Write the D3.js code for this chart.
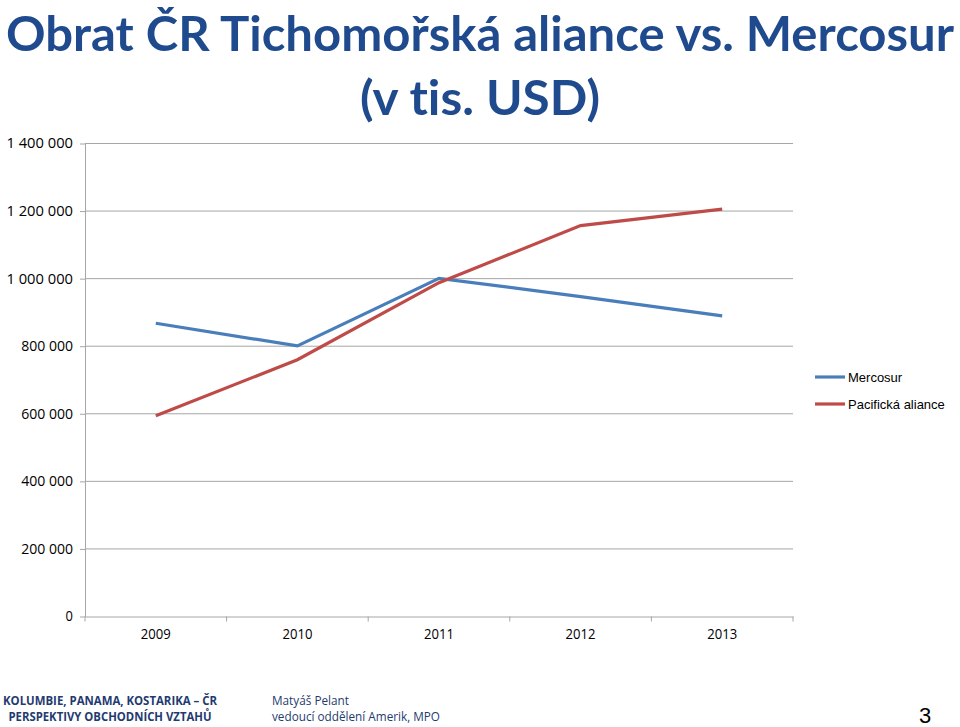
<!DOCTYPE html>
<html lang="cs">
<head>
<meta charset="UTF-8">
<script src="https://cdn.jsdelivr.net/npm/d3@7"></script>
<style>
  body { margin: 0; background: #fff; }
  svg text { font-family: "Open Sans", "DejaVu Sans", sans-serif; font-variant-ligatures: none; }
</style>
</head>
<body>
<div id="chart"></div>
<script>
// ---- data (thousand USD) ----
const years = ["2009", "2010", "2011", "2012", "2013"];
const mercosur = [868000, 801000, 1001000, 947000, 890000];
const pacifika = [594000, 760000, 988000, 1157000, 1206000];
const seriesNames = ["Mercosur", "Pacifická aliance"];
const yTicks = [0, 200000, 400000, 600000, 800000, 1000000, 1200000, 1400000];

const width = 960, height = 727;
const margin = { left: 85, right: 167, top: 143.5, bottom: 110.5 };

const svg = d3.select("#chart").append("svg")
  .attr("width", width)
  .attr("height", height);

// ---- title ----
const titleColor = "#1f4b8e";
svg.append("text")
  .attr("x", 6).attr("y", 51)
  .attr("textLength", 948).attr("lengthAdjust", "spacingAndGlyphs")
  .attr("fill", titleColor).attr("font-weight", "bold").attr("font-size", 48)
  .style("font-family", "Lato, 'Open Sans', sans-serif")
  .text("Obrat ČR Tichomořská aliance vs. Mercosur");
svg.append("text")
  .attr("x", 480).attr("y", 115).attr("text-anchor", "middle")
  .attr("textLength", 240).attr("lengthAdjust", "spacingAndGlyphs")
  .attr("fill", titleColor).attr("font-weight", "bold").attr("font-size", 48)
  .style("font-family", "Lato, 'Open Sans', sans-serif")
  .text("(v tis. USD)");

// ---- scales ----
const x = d3.scaleBand().domain(years)
  .range([margin.left, width - margin.right]);
const y = d3.scaleLinear().domain([0, 1400000])
  .range([height - margin.bottom, margin.top]);

const gridColor = "#a6a6a6";
const fmt = v => d3.format(",")(v).replace(/,/g, " ");

// gridlines
svg.append("g").selectAll("line")
  .data(yTicks.filter(d => d > 0))
  .enter().append("line")
  .attr("x1", margin.left).attr("x2", width - margin.right)
  .attr("y1", d => y(d)).attr("y2", d => y(d))
  .attr("stroke", gridColor).attr("stroke-width", 1);

// y axis
const yAxis = svg.append("g")
  .attr("transform", `translate(${margin.left},0)`)
  .call(d3.axisLeft(y).tickValues(yTicks).tickFormat(fmt).tickSize(5).tickSizeOuter(0));
yAxis.select(".domain").attr("stroke", gridColor);
yAxis.selectAll(".tick line").attr("stroke", gridColor);
yAxis.selectAll(".tick text").attr("font-size", 14).attr("fill", "#000").attr("dx", "-4")
  .attr("textLength", function(d) { return fmt(d).length * 7.4; })
  .attr("lengthAdjust", "spacingAndGlyphs");

// x axis
const xAxis = svg.append("g")
  .attr("transform", `translate(0,${y(0)})`)
  .call(d3.axisBottom(x).tickSize(0).tickPadding(13));
xAxis.select(".domain").attr("stroke", gridColor);
xAxis.selectAll(".tick text").attr("font-size", 14).attr("fill", "#000")
  .attr("textLength", 30).attr("lengthAdjust", "spacingAndGlyphs");
// category boundary ticks
svg.append("g").selectAll("line")
  .data(years.concat(["end"]))
  .enter().append("line")
  .attr("x1", (d, i) => margin.left + i * x.bandwidth())
  .attr("x2", (d, i) => margin.left + i * x.bandwidth())
  .attr("y1", y(0)).attr("y2", y(0) + 5)
  .attr("stroke", gridColor);

// ---- lines ----
const colors = ["#4a7ebb", "#be4b48"];
const line = d3.line()
  .x((d, i) => x(years[i]) + x.bandwidth() / 2)
  .y(d => y(d));
[mercosur, pacifika].forEach((s, i) => {
  svg.append("path")
    .datum(s)
    .attr("d", line)
    .attr("fill", "none")
    .attr("stroke", colors[i])
    .attr("stroke-width", 3.2);
});

// ---- legend ----
const legend = svg.append("g").attr("transform", "translate(815,377)");
seriesNames.forEach((name, i) => {
  legend.append("line")
    .attr("x1", 0).attr("x2", 30)
    .attr("y1", i * 27).attr("y2", i * 27)
    .attr("stroke", colors[i]).attr("stroke-width", 3.2);
  legend.append("text")
    .attr("x", 33).attr("y", i * 27 + 5)
    .attr("font-size", 13).attr("fill", "#000")
    .style("font-family", "'Liberation Sans', Arial, sans-serif")
    .text(name);
});

// ---- footer ----
const footColor = "#1f3b70";
svg.append("text").attr("x", 110).attr("y", 705).attr("text-anchor", "middle")
  .attr("font-size", 12).attr("font-weight", "bold").attr("fill", footColor)
  .attr("textLength", 214).attr("lengthAdjust", "spacingAndGlyphs")
  .text("KOLUMBIE, PANAMA, KOSTARIKA – ČR");
svg.append("text").attr("x", 110).attr("y", 721).attr("text-anchor", "middle")
  .attr("font-size", 12).attr("font-weight", "bold").attr("fill", footColor)
  .attr("textLength", 203).attr("lengthAdjust", "spacingAndGlyphs")
  .text("PERSPEKTIVY OBCHODNÍCH VZTAHŮ");
svg.append("text").attr("x", 272).attr("y", 705)
  .attr("font-size", 12).attr("fill", footColor)
  .attr("textLength", 77).attr("lengthAdjust", "spacingAndGlyphs")
  .text("Matyáš Pelant");
svg.append("text").attr("x", 272).attr("y", 721)
  .attr("font-size", 12).attr("fill", footColor)
  .attr("textLength", 168).attr("lengthAdjust", "spacingAndGlyphs")
  .text("vedoucí oddělení Amerik, MPO");
svg.append("text").attr("x", 925).attr("y", 723).attr("text-anchor", "middle")
  .attr("font-size", 22).attr("fill", "#000")
  .style("font-family", "'Liberation Sans', Arial, sans-serif")
  .text("3");
</script>
</body>
</html>
